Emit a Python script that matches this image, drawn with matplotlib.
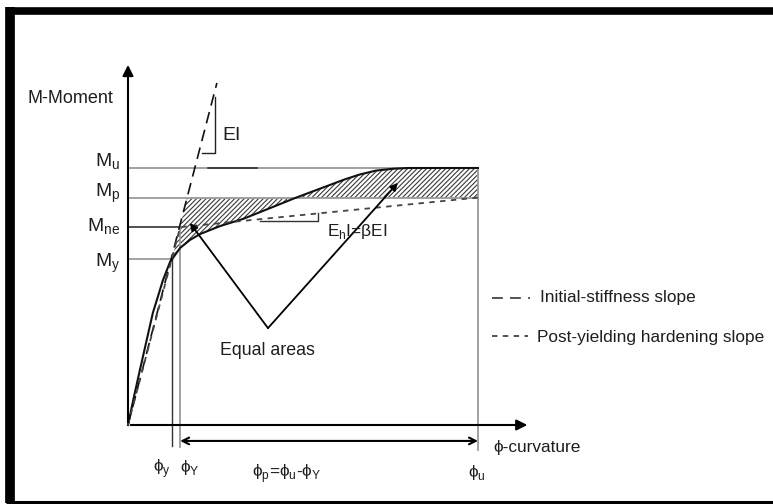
import numpy as np
import matplotlib.pyplot as plt
from matplotlib.lines import Line2D

plt.rcParams['font.family'] = ['Liberation Sans', 'DejaVu Sans']
plt.rcParams['mathtext.fontset'] = 'custom'
plt.rcParams['mathtext.rm'] = 'Liberation Sans'
plt.rcParams['hatch.linewidth'] = 0.8

# normalised curvature (phi_u = 1) and moment (M_u = 1)
phi_curve = [0, 0.017, 0.034, 0.071, 0.100, 0.120, 0.149, 0.177, 0.206, 0.263, 0.329,
             0.406, 0.477, 0.569, 0.620, 0.663, 0.709, 0.757, 0.800, 0.834, 1.0]
m_curve = [0, 0.110, 0.214, 0.436, 0.564, 0.634, 0.689, 0.720, 0.743, 0.774, 0.802,
           0.844, 0.883, 0.930, 0.956, 0.975, 0.990, 0.997, 1.0, 1.0, 1.0]

M_u, M_p, M_ne, M_y = 1.0, 0.883, 0.770, 0.646
phi_y, phi_Y, phi_u = 0.126, 0.149, 1.0
EI = 5.24               # initial stiffness slope
M_end_hard = 0.885      # hardening line at phi_u

fig = plt.figure(figsize=(7.73, 5.04), dpi=100)
ax = fig.add_axes([0, 0, 1, 1])
ax.set_xlim(-0.3657, 1.8429)
ax.set_ylim(-0.3074, 1.6537)
ax.axis('off')

grey = '#9a9a9a'
txt = '#1e1e1e'
fs = 12.4

# reference lines
ax.plot([0, phi_u], [M_u, M_u], color=grey, lw=1.3)
ax.plot([0.23, 0.37], [M_u, M_u], color='#222222', lw=1.1)
ax.plot([0, phi_u], [M_p, M_p], color=grey, lw=1.3)
ax.plot([0, phi_Y], [M_ne, M_ne], color='#222222', lw=1.1)
ax.plot([0, phi_y], [M_y, M_y], color=grey, lw=1.3)
ax.plot([phi_y, phi_y], [-0.082, M_y], color='#333333', lw=1.0)
ax.plot([phi_Y, phi_Y], [-0.086, M_ne], color=grey, lw=1.3)
ax.plot([phi_u, phi_u], [-0.097, M_u], color=grey, lw=1.3)

# equal-area hatching
phi_c = np.array(phi_curve)
m_c = np.array(m_curve)
phi_top = M_p / EI
phi_cross = 0.477
mid = (phi_c > phi_y) & (phi_c < phi_cross)
poly1_x = [phi_y, phi_top, phi_cross] + list(phi_c[mid][::-1])
poly1_y = [M_y, M_p, M_p] + list(m_c[mid][::-1])
ax.fill(poly1_x, poly1_y, facecolor='none', edgecolor='#3a3a3a', lw=0, hatch='///////')
poly2_x = list(phi_c[phi_c >= phi_cross]) + [phi_u, phi_cross]
poly2_y = list(m_c[phi_c >= phi_cross]) + [M_p, M_p]
ax.fill(poly2_x, poly2_y, facecolor='none', edgecolor='#3a3a3a', lw=0, hatch='///////')

# moment-curvature curve
ax.plot(phi_curve, m_curve, color='#111111', lw=1.5)

# initial stiffness line
ax.plot([0, 0.254], [0, 0.254 * EI], color='#111111', lw=1.2, dashes=(7, 4))
# bilinear idealisation
ax.plot([0, phi_Y, phi_u], [0, M_ne, M_end_hard], color='#444444', lw=1.3, dashes=(3, 3))

# slope triangles
ax.plot([0.211, 0.249, 0.249], [1.058, 1.058, 1.276], color='#222222', lw=1.0)
m_h = M_ne + (M_end_hard - M_ne) * (0.543 - phi_Y) / (phi_u - phi_Y)
ax.plot([0.377, 0.543, 0.543], [0.794, 0.794, m_h], color='#333333', lw=1.0)

# axes with arrows
ax.annotate('', xy=(0, 1.412), xytext=(0, 0),
            arrowprops=dict(arrowstyle='-|>', color='black', lw=1.5, mutation_scale=16))
ax.annotate('', xy=(1.149, 0), xytext=(0, 0),
            arrowprops=dict(arrowstyle='-|>', color='black', lw=1.5, mutation_scale=16))
ax.annotate('', xy=(phi_u, -0.062), xytext=(phi_Y, -0.062),
            arrowprops=dict(arrowstyle='<->', color='black', lw=1.5, mutation_scale=12,
                            shrinkA=0, shrinkB=0))

# equal areas pointers
for tip in [(0.177, 0.786), (0.771, 0.942)]:
    ax.annotate('', xy=tip, xytext=(0.400, 0.377),
                arrowprops=dict(arrowstyle='-|>', color='black', lw=1.3, mutation_scale=11,
                                shrinkA=0, shrinkB=0))

# texts
ax.text(-0.286, 1.272, 'M-Moment', fontsize=13, color=txt, va='center')
ax.text(-0.023, 1.004, r'M$_\mathregular{u}$', fontsize=14, color=txt, ha='right', va='baseline')
ax.text(-0.023, 0.887, r'M$_\mathregular{p}$', fontsize=14, color=txt, ha='right', va='baseline')
ax.text(-0.023, 0.751, r'M$_\mathregular{ne}$', fontsize=14, color=txt, ha='right', va='baseline')
ax.text(-0.023, 0.615, r'M$_\mathregular{y}$', fontsize=14, color=txt, ha='right', va='baseline')
ax.text(0.269, 1.109, 'EI', fontsize=14, color=txt, va='baseline')
ax.text(0.569, 0.735, r'E$_\mathregular{h}$I=βEI', fontsize=fs, color=txt, va='baseline')
ax.text(0.263, 0.272, 'Equal areas', fontsize=fs + 0.4, color=txt, va='baseline')
ax.text(0.071, -0.183, r'ϕ$_\mathregular{y}$', fontsize=fs, color=txt, va='baseline')
ax.text(0.149, -0.183, r'ϕ$_\mathregular{Y}$', fontsize=fs, color=txt, va='baseline')
ax.text(0.354, -0.202, r'ϕ$_\mathregular{p}$=ϕ$_\mathregular{u}$-ϕ$_\mathregular{Y}$',
        fontsize=fs, color=txt, va='baseline')
ax.text(0.971, -0.202, r'ϕ$_\mathregular{u}$', fontsize=fs, color=txt, va='baseline')
ax.text(1.043, -0.105, 'ϕ-curvature', fontsize=fs, color=txt, va='baseline')

# legend
ax.plot([1.04, 1.149], [0.494, 0.494], color='#444444', lw=1.3, dashes=(6, 4))
ax.text(1.177, 0.498, 'Initial-stiffness slope', fontsize=fs, color=txt, va='center')
ax.plot([1.04, 1.143], [0.346, 0.346], color='#444444', lw=1.3, dashes=(3, 3))
ax.text(1.169, 0.339, 'Post-yielding hardening slope', fontsize=fs, color=txt, va='center')

# outer frame
fig.add_artist(Line2D([10 / 773, 10 / 773], [1 - 7 / 504, 1 - 503 / 504], color='black', lw=7,
                      transform=fig.transFigure, solid_capstyle='butt'))
fig.add_artist(Line2D([6 / 773, 1], [1 - 11 / 504, 1 - 11 / 504], color='black', lw=5.5,
                      transform=fig.transFigure, solid_capstyle='butt'))
fig.add_artist(Line2D([6 / 773, 1], [1 - 501.5 / 504, 1 - 501.5 / 504], color='black', lw=2.2,
                      transform=fig.transFigure, solid_capstyle='butt'))

fig.savefig('out.png', dpi=100)
